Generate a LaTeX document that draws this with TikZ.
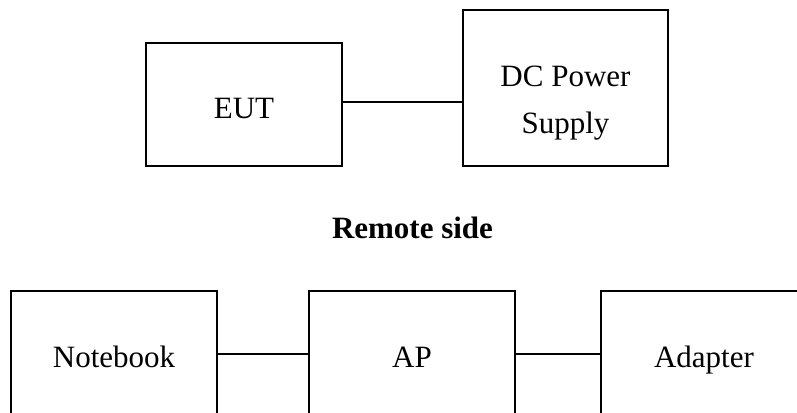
\documentclass[tikz,border=0pt]{standalone}
\usepackage{fontspec}
\setmainfont{Liberation Serif}
\begin{document}
\begin{tikzpicture}[x=0.5pt, y=-0.5pt,
  unit/.style={draw, line width=0.85pt, inner sep=0pt, align=center,
    font=\fontsize{15.5}{23.5}\selectfont},
  link/.style={line width=0.85pt}]
\useasboundingbox (0,0) rectangle (797,412);
\clip (0,0) rectangle (797,412);
% test setup
\node[unit, minimum width=98pt, minimum height=61.5pt, text height=13.5pt, text depth=0pt] (eut) at (244,104.5) {EUT};
\node[unit, minimum width=102.5pt, minimum height=78pt, text height=45pt, text depth=0pt] (dc) at (565.5,88) {DC Power\\Supply};
\draw[link] (eut.east) ++(0,-2.5) -- (dc.west |- 0,102);
\node[anchor=base, font=\fontsize{15.5}{18}\selectfont\bfseries] (remote) at (412.5,238) {Remote side};
% remote side
\node[unit, minimum width=103pt, minimum height=66pt, text height=10pt, text depth=0pt] (nb) at (114,357) {Notebook};
\node[unit, minimum width=103pt, minimum height=66pt, text height=10pt, text depth=0pt] (ap) at (412,357) {AP};
\node[unit, minimum width=103pt, minimum height=66pt, text height=10pt, text depth=0pt] (adp) at (704,357) {Adapter};
\draw[link] (nb.east) ++(0,-3) -- (ap.west |- 0,354);
\draw[link] (ap.east) ++(0,-3) -- (adp.west |- 0,354);
\end{tikzpicture}
\end{document}
